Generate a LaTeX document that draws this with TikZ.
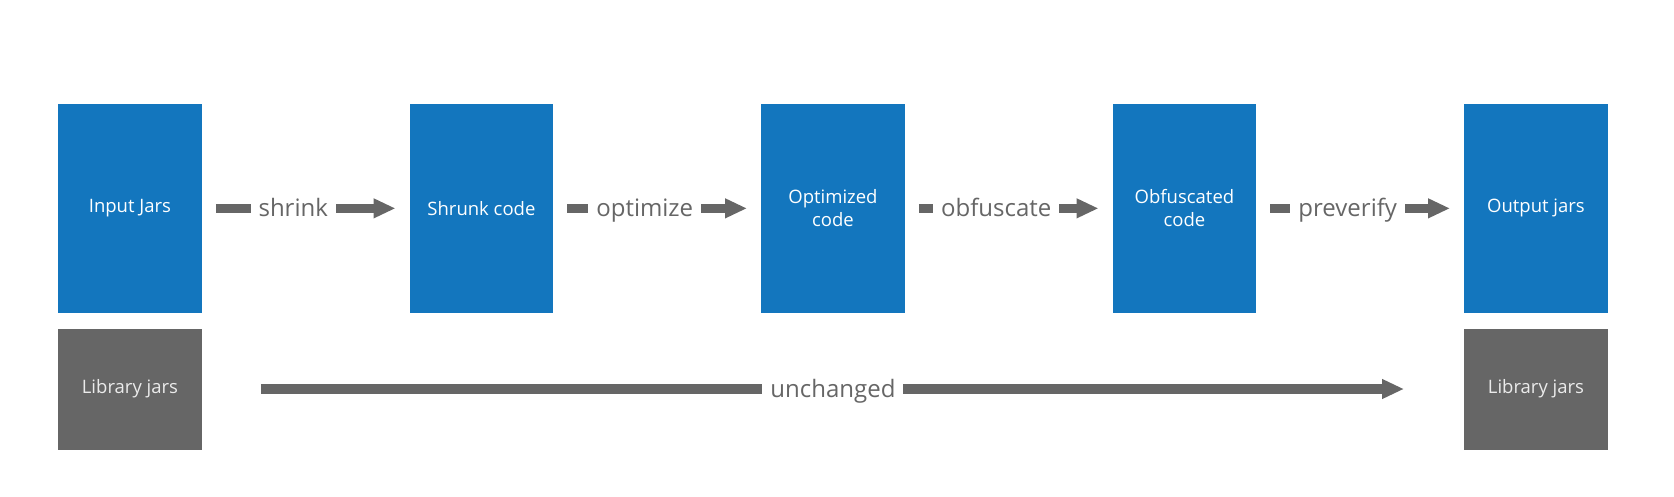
\documentclass[tikz,border=0pt]{standalone}
\usepackage{fontspec}
\setmainfont{Open Sans}
\usetikzlibrary{arrows.meta}
\definecolor{boxblue}{HTML}{1376BE}
\definecolor{boxgray}{HTML}{666666}
\definecolor{arrgray}{HTML}{666666}
\begin{document}
\begin{tikzpicture}[x=1pt,y=-1pt,
  stage/.style={rectangle, fill=boxblue, draw=none, anchor=north west,
    minimum width=143.5pt, minimum height=208.3pt, inner sep=0pt,
    text=white, align=center, font=\fontsize{18.5}{23}\selectfont},
  libbox/.style={rectangle, fill=boxgray, draw=none, anchor=north west,
    minimum width=143.5pt, minimum height=121pt, inner sep=0pt,
    text=white!92!black, align=center, font=\fontsize{18.5}{23}\selectfont},
  flow/.style={draw=arrgray, line width=9.5pt,
    -{Triangle[length=22pt,width=18.5pt]}, shorten <=14pt, shorten >=14pt},
  lbl/.style={fill=white, text=arrgray, inner xsep=8pt, inner ysep=2pt,
    text height=21pt, text depth=5pt,
    font=\fontsize{24}{28}\selectfont}]
\useasboundingbox (0,0) rectangle (1674,496);
\node[stage] (in)  at (58,104)    {Input Jars};
\node[stage] (sh)  at (409.5,104) {Shrunk code};
\node[stage] (op)  at (761,104)   {Optimized\\code};
\node[stage] (ob)  at (1112.5,104){Obfuscated\\code};
\node[stage] (out) at (1464,104)  {Output jars};
\node[libbox] (lib1) at (58,328.3)   {Library jars};
\node[libbox] (lib2) at (1464,328.3) {Library jars};
\draw[flow] (in)  -- node[lbl, pos=0.44] {shrink} (sh);
\draw[flow] (sh)  -- node[lbl, pos=0.44] {optimize} (op);
\draw[flow] (op)  -- node[lbl, pos=0.44] {obfuscate} (ob);
\draw[flow] (ob)  -- node[lbl, pos=0.44] {preverify} (out);
\draw[flow, shorten <=59pt, shorten >=60pt] (lib1) -- node[lbl, pos=0.5] {unchanged} (lib2);
\end{tikzpicture}
\end{document}
